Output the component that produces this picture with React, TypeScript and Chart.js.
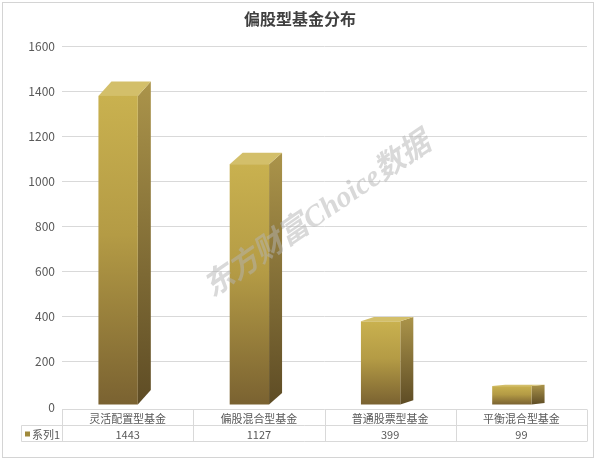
import React, { useEffect, useRef } from "react";
import { Chart, registerables } from "chart.js";

Chart.register(...registerables);

const chartTitle = "偏股型基金分布";
const categories = ["灵活配置型基金", "偏股混合型基金", "普通股票型基金", "平衡混合型基金"];
const seriesName = "系列1";
const values = [1443, 1127, 399, 99];
const yMin = 0;
const yMax = 1600;
const yStep = 200;
const watermarkText = "东方财富Choice数据";

const FONT = "'Noto Sans CJK SC', 'Liberation Sans', sans-serif";
const TEXT = "#595959";
const LINE = "#d9d9d9";

const frame3d = {
  id: "frame3d",
  beforeDraw(chart: any) {
    const ctx = chart.ctx;
    ctx.save();
    ctx.fillStyle = "#ffffff";
    ctx.fillRect(0, 0, chart.width, chart.height);
    ctx.strokeStyle = "#d4d4d4";
    ctx.lineWidth = 1;
    ctx.strokeRect(2.5, 2.5, 591, 455);
    ctx.restore();
  },
  afterDatasetsDraw(chart: any) {
    const ctx = chart.ctx;
    const area = chart.chartArea;
    const meta = chart.getDatasetMeta(0);
    ctx.save();
    meta.data.forEach((el: any) => {
      const p = el.getProps(["x", "y", "base", "width"], true);
      const h = p.base - p.y;
      const dx = 13;
      const dy = 0.5 + 0.043 * h;
      const bl = p.x + 3.5 - p.width / 2;
      const br = bl + p.width;
      const bt = p.y;
      const bb = p.base - 2 - dy;
      const fl = bl - dx;
      const fr = br - dx;
      const ft = bt + dy;
      const fb = bb + dy;
      // side
      const gs = ctx.createLinearGradient(0, bt, 0, fb);
      gs.addColorStop(0, "#ab944a");
      gs.addColorStop(1, "#5e4c25");
      ctx.fillStyle = gs;
      ctx.beginPath();
      ctx.moveTo(fr, ft);
      ctx.lineTo(br, bt);
      ctx.lineTo(br, bb);
      ctx.lineTo(fr, fb);
      ctx.closePath();
      ctx.fill();
      // top
      ctx.fillStyle = "#d3bf6a";
      ctx.beginPath();
      ctx.moveTo(fl, ft);
      ctx.lineTo(bl, bt);
      ctx.lineTo(br, bt);
      ctx.lineTo(fr, ft);
      ctx.closePath();
      ctx.fill();
      // front
      const gf = ctx.createLinearGradient(0, ft, 0, fb);
      gf.addColorStop(0, "#c9b14f");
      gf.addColorStop(0.45, "#b49b45");
      gf.addColorStop(1, "#7a6231");
      ctx.fillStyle = gf;
      ctx.fillRect(fl, ft, fr - fl, fb - ft);
    });

    // data table
    const xs = chart.scales.x;
    const n = categories.length;
    const colW = (area.right - area.left) / n;
    const t0 = area.bottom + 2.5;
    const t1 = t0 + 16;
    const t2 = t1 + 16;
    const legL = 21.5;
    ctx.strokeStyle = LINE;
    ctx.lineWidth = 1;
    ctx.beginPath();
    ctx.moveTo(area.left, t0);
    ctx.lineTo(area.right, t0);
    ctx.moveTo(legL, t1);
    ctx.lineTo(area.right, t1);
    ctx.moveTo(legL, t2);
    ctx.lineTo(area.right, t2);
    ctx.moveTo(legL, t1);
    ctx.lineTo(legL, t2);
    for (let i = 0; i <= n; i++) {
      const x = Math.round(area.left + i * colW) + 0.5;
      ctx.moveTo(x, t0);
      ctx.lineTo(x, t2);
    }
    ctx.stroke();
    ctx.fillStyle = TEXT;
    ctx.font = `11px ${FONT}`;
    ctx.textAlign = "center";
    ctx.textBaseline = "middle";
    categories.forEach((c, i) => {
      const cx = xs.getPixelForValue(i);
      ctx.fillText(c, cx, (t0 + t1) / 2 + 1);
      ctx.fillText(String(values[i]), cx, (t1 + t2) / 2 + 1);
    });
    ctx.fillStyle = "#a08a3c";
    ctx.fillRect(25, (t1 + t2) / 2 - 2, 5, 5);
    ctx.fillStyle = TEXT;
    ctx.textAlign = "left";
    ctx.fillText(seriesName, 32, (t1 + t2) / 2 + 1);

    // title
    ctx.fillStyle = "#404040";
    ctx.font = `bold 16px ${FONT}`;
    ctx.textAlign = "center";
    ctx.fillText(chartTitle, 300, 19);

    // watermark
    ctx.save();
    ctx.translate(318, 216);
    ctx.rotate(-0.6);
    ctx.fillStyle = "rgba(180,180,180,0.5)";
    ctx.font = "bold italic 30px 'Liberation Serif', 'Noto Sans CJK SC', serif";
    ctx.textAlign = "center";
    ctx.fillText(watermarkText, 0, 0);
    ctx.restore();

    ctx.restore();
  },
};

export default function App() {
  const ref = useRef<HTMLCanvasElement | null>(null);
  useEffect(() => {
    document.body.style.margin = "0";
    const canvas = ref.current;
    if (!canvas) return;
    const chart = new Chart(canvas, {
      type: "bar",
      data: {
        labels: categories,
        datasets: [
          {
            label: seriesName,
            data: values,
            backgroundColor: "rgba(0,0,0,0)",
            borderWidth: 0,
            barPercentage: 0.3,
            categoryPercentage: 1,
          },
        ],
      },
      options: {
        responsive: false,
        animation: false,
        layout: { padding: { top: 46, right: 13, bottom: 57, left: 0 } },
        plugins: {
          legend: { display: false },
          title: { display: false },
          tooltip: { enabled: false },
        },
        scales: {
          x: { display: false },
          y: {
            min: yMin,
            max: yMax,
            afterFit: (s: any) => {
              s.width = 62;
            },
            ticks: {
              stepSize: yStep,
              color: TEXT,
              font: { size: 12, family: FONT },
              padding: 7,
              callback: (v: any) => String(v),
            },
            grid: {
              drawTicks: false,
              color: (c: any) => (c.tick && c.tick.value === 0 ? "rgba(0,0,0,0)" : LINE),
            },
            border: { display: false },
          },
        },
      },
      plugins: [frame3d],
    });
    return () => chart.destroy();
  }, []);
  return <canvas ref={ref} width={600} height={464} style={{ display: "block" }} />;
}
